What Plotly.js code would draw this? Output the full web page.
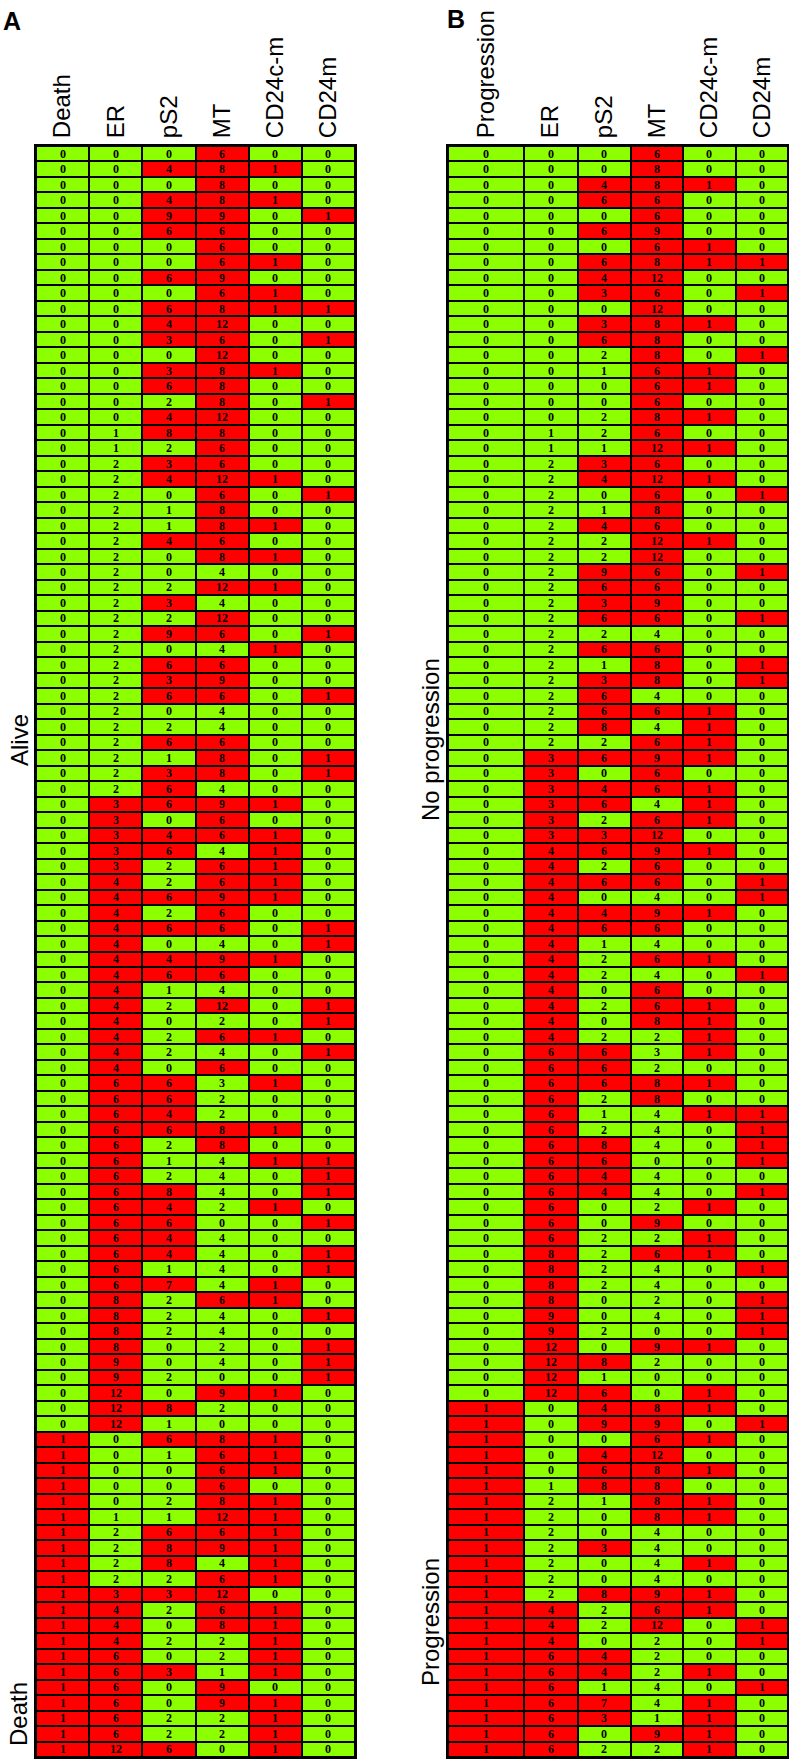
<!DOCTYPE html>
<html>
<head>
<meta charset="utf-8">
<script src="https://cdn.plot.ly/plotly-3.0.1.min.js"></script>
<style>
  body { margin: 0; background: #fff; }
  #chart { width: 789px; height: 1759px; }
</style>
</head>
<body>
<div id="chart"></div>
<script>
// column headers
var colsA = ['Death', 'ER', 'pS2', 'MT', 'CD24c-m', 'CD24m'];
var colsB = ['Progression', 'ER', 'pS2', 'MT', 'CD24c-m', 'CD24m'];

// a value at or above the cutoff is drawn red
var cutoffs = [1, 3, 3, 6, 1, 1];

// panel A: overall survival
var deathA = [
  0,0,0,0,0,0,0,0,0,0, 0,0,0,0,0,0,0,0,0,0, 0,0,0,0,0,0,0,0,0,0,
  0,0,0,0,0,0,0,0,0,0, 0,0,0,0,0,0,0,0,0,0, 0,0,0,0,0,0,0,0,0,0,
  0,0,0,0,0,0,0,0,0,0, 0,0,0,0,0,0,0,0,0,0, 0,0,0,1,1,1,1,1,1,1,
  1,1,1,1,1,1,1,1,1,1, 1,1,1,1
];
var erA = [
  0,0,0,0,0,0,0,0,0,0, 0,0,0,0,0,0,0,0,1,1, 2,2,2,2,2,2,2,2,2,2,
  2,2,2,2,2,2,2,2,2,2, 2,2,3,3,3,3,3,4,4,4, 4,4,4,4,4,4,4,4,4,4,
  6,6,6,6,6,6,6,6,6,6, 6,6,6,6,8,8,8,8,9,9, 12,12,12,0,0,0,0,0,1,2,
  2,2,2,3,4,4,4,6,6,6, 6,6,6,12
];
var ps2A = [
  0,4,0,4,9,6,0,0,6,0, 6,4,3,0,3,6,2,4,8,2, 3,4,0,1,1,4,0,0,2,3,
  2,9,0,6,3,6,0,2,6,1, 3,6,6,0,4,6,2,2,6,2, 6,0,4,6,1,2,0,2,2,0,
  6,6,4,6,2,1,2,8,4,6, 4,4,1,7,2,2,2,0,0,2, 0,8,1,6,1,0,0,2,1,6,
  8,8,2,3,2,0,2,0,3,0, 0,2,2,6
];
var mtA = [
  6,8,8,8,9,6,6,6,9,6, 8,12,6,12,8,8,8,12,8,6, 6,12,6,8,8,6,8,4,12,4,
  12,6,4,6,9,6,4,4,6,8, 8,4,9,6,6,4,6,6,9,6, 6,4,9,6,4,12,2,6,4,6,
  3,2,2,8,8,4,4,4,2,0, 4,4,4,4,6,4,4,2,4,0, 9,2,0,8,6,6,6,8,12,6,
  9,4,6,12,6,8,2,2,1,9, 9,2,2,0
];
var cd24cmA = [
  0,1,0,1,0,0,0,1,0,1, 1,0,0,0,1,0,0,0,0,0, 0,1,0,0,1,0,1,0,1,0,
  0,0,1,0,0,0,0,0,0,0, 0,0,1,0,1,1,1,1,1,0, 0,0,1,0,0,0,0,1,0,0,
  1,0,0,1,0,1,0,0,1,0, 0,0,0,1,1,0,0,0,0,0, 1,0,0,1,1,1,0,1,1,1,
  1,1,1,0,1,1,1,1,1,0, 1,1,1,1
];
var cd24mA = [
  0,0,0,0,1,0,0,0,0,0, 1,0,1,0,0,0,1,0,0,0, 0,0,1,0,0,0,0,0,0,0,
  0,1,0,0,0,1,0,0,0,1, 1,0,0,0,0,0,0,0,0,0, 1,1,0,0,0,1,1,0,1,0,
  0,0,0,0,0,1,1,1,0,1, 0,1,1,0,0,1,0,1,1,1, 0,0,0,0,0,0,0,0,0,0,
  0,0,0,0,0,0,0,0,0,0, 0,0,0,0
];

// panel B: progression
var progB = [
  0,0,0,0,0,0,0,0,0,0, 0,0,0,0,0,0,0,0,0,0, 0,0,0,0,0,0,0,0,0,0,
  0,0,0,0,0,0,0,0,0,0, 0,0,0,0,0,0,0,0,0,0, 0,0,0,0,0,0,0,0,0,0,
  0,0,0,0,0,0,0,0,0,0, 0,0,0,0,0,0,0,0,0,0, 0,1,1,1,1,1,1,1,1,1,
  1,1,1,1,1,1,1,1,1,1, 1,1,1,1
];
var erB = [
  0,0,0,0,0,0,0,0,0,0, 0,0,0,0,0,0,0,0,1,1, 2,2,2,2,2,2,2,2,2,2,
  2,2,2,2,2,2,2,2,2,3, 3,3,3,3,3,4,4,4,4,4, 4,4,4,4,4,4,4,4,6,6,
  6,6,6,6,6,6,6,6,6,6, 6,8,8,8,8,9,9,12,12,12, 12,0,0,0,0,0,1,2,2,2,
  2,2,2,2,4,4,4,6,6,6, 6,6,6,6
];
var ps2B = [
  0,0,4,6,0,6,0,6,4,3, 0,3,6,2,1,0,0,2,2,1, 3,4,0,1,4,2,2,9,6,3,
  6,2,6,1,3,6,6,8,2,6, 0,4,6,2,3,6,2,6,0,4, 6,1,2,2,0,2,0,2,6,6,
  6,2,1,2,8,6,4,4,0,0, 2,2,2,2,0,0,2,0,8,1, 6,4,9,0,4,6,8,1,0,0,
  3,0,0,8,2,2,0,4,4,1, 7,3,0,2
];
var mtB = [
  6,8,8,6,6,9,6,8,12,6, 12,8,8,8,6,6,6,8,6,12, 6,12,6,8,6,12,12,6,6,9,
  6,4,6,8,8,4,6,4,6,9, 6,6,4,6,12,9,6,6,4,9, 6,4,6,4,6,6,8,2,3,2,
  8,8,4,4,4,0,4,4,2,9, 2,6,4,4,2,4,0,9,2,0, 0,8,9,6,12,8,8,8,8,4,
  4,4,4,9,6,12,2,2,2,4, 4,1,9,2
];
var cd24cmB = [
  0,0,1,0,0,0,1,1,0,0, 0,1,0,0,1,1,0,1,0,1, 0,1,0,0,0,1,0,0,0,0,
  0,0,0,0,0,0,1,1,1,1, 0,1,1,1,0,1,0,0,0,1, 0,0,1,0,0,1,1,1,1,0,
  1,0,1,0,0,0,0,0,1,0, 1,1,0,0,0,0,0,1,0,0, 1,1,0,1,0,1,0,1,1,0,
  0,1,0,1,1,0,0,0,1,0, 1,1,1,1
];
var cd24mB = [
  0,0,0,0,0,0,0,1,0,1, 0,0,0,1,0,0,0,0,0,0, 0,0,1,0,0,0,0,1,0,0,
  1,0,0,1,1,0,0,0,0,0, 0,0,0,0,0,0,0,1,1,0, 0,0,0,1,0,0,0,0,0,0,
  0,0,1,1,1,1,0,1,0,0, 0,0,1,0,1,1,1,0,0,0, 0,0,1,0,0,0,0,0,0,0,
  0,0,0,0,0,1,1,0,0,1, 0,0,0,0
];

var GREEN = '#8cff00';
var RED = '#ff0000';

function buildTrace(columns, xEdges, xa, ya) {
    var n = columns[0].length;
    var z = [], text = [], rows = [];
    for (var i = 0; i < n; i++) {
        var zr = [], tr = [];
        for (var j = 0; j < columns.length; j++) {
            var v = columns[j][i];
            zr.push(v >= cutoffs[j] ? 1 : 0);
            tr.push(String(v));
        }
        z.push(zr);
        text.push(tr);
        rows.push(i);
    }
    return {
        type: 'heatmap',
        x: xEdges,
        y: rows,
        z: z,
        text: text,
        texttemplate: '%{text}',
        textfont: { family: 'Liberation Serif', size: 12, color: '#000', weight: 'bold' },
        colorscale: [[0, GREEN], [0.5, GREEN], [0.5, RED], [1, RED]],
        zmin: 0, zmax: 1,
        showscale: false,
        xgap: 2, ygap: 2,
        hoverinfo: 'skip',
        xaxis: xa, yaxis: ya
    };
}

var edgesA = [0, 1, 2, 3, 4, 5, 6];
var edgesB = [0, 1.43, 2.45, 3.46, 4.44, 5.45, 6.43];
var centersA = [0.5, 1.5, 2.5, 3.5, 4.5, 5.5];
var centersB = [];
for (var k = 0; k < 6; k++) centersB.push((edgesB[k] + edgesB[k + 1]) / 2);

var traceA = buildTrace([deathA, erA, ps2A, mtA, cd24cmA, cd24mA], edgesA, 'x', 'y');
var traceB = buildTrace([progB, erB, ps2B, mtB, cd24cmB, cd24mB], edgesB, 'x2', 'y2');

var W = 789, H = 1759;
var tableTop = 146, tableBottom = 1757;
var headFont = { family: 'Liberation Sans, Arial, sans-serif', size: 24, color: '#000' };

function xAxis(domain, vals, labels, last) {
    return {
        domain: domain, range: [0, last], side: 'top',
        tickvals: vals, ticktext: labels, tickangle: -90,
        ticks: 'outside', ticklen: 1, tickcolor: 'rgba(0,0,0,0)',
        tickfont: headFont,
        showgrid: false, zeroline: false,
        showline: true, mirror: true, linecolor: '#000', linewidth: 2,
        fixedrange: true
    };
}
function yAxis(anchor) {
    return {
        domain: [1 - tableBottom / H, 1 - tableTop / H], range: [103.5, -0.5],
        anchor: anchor, showticklabels: false, ticks: '',
        showgrid: false, zeroline: false,
        showline: true, mirror: true, linecolor: '#000', linewidth: 2,
        fixedrange: true
    };
}

var labelFont = { family: 'Liberation Sans, Arial, sans-serif', size: 24, color: '#000' };
function sideLabel(text, px, py) {
    return { text: text, xref: 'paper', yref: 'paper', x: px / W, y: 1 - py / H,
             xanchor: 'center', yanchor: 'middle',
             textangle: -90, showarrow: false, font: labelFont };
}
var letterFont = { family: 'Liberation Sans, Arial, sans-serif', size: 25, color: '#000' };

var layout = {
    width: W, height: H,
    margin: { l: 0, r: 0, t: 0, b: 0 },
    paper_bgcolor: '#fff',
    plot_bgcolor: '#000',
    showlegend: false,
    xaxis: Object.assign(xAxis([36 / W, 355 / W], centersA, colsA, 6), { anchor: 'y' }),
    yaxis: yAxis('x'),
    xaxis2: Object.assign(xAxis([448 / W, 788 / W], centersB, colsB, 6.43), { anchor: 'y2' }),
    yaxis2: yAxis('x2'),
    annotations: [
        { text: '<b>A</b>', xref: 'paper', yref: 'paper', x: 12 / W, y: 1 - 21 / H,
          xanchor: 'center', yanchor: 'middle', showarrow: false, font: letterFont },
        { text: '<b>B</b>', xref: 'paper', yref: 'paper', x: 456 / W, y: 1 - 19 / H,
          xanchor: 'center', yanchor: 'middle', showarrow: false, font: letterFont },
        sideLabel('Alive', 19, 740),
        sideLabel('Death', 18, 1714),
        sideLabel('No progression', 430, 740),
        sideLabel('Progression', 430, 1622)
    ]
};

Plotly.newPlot('chart', [traceA, traceB], layout, { displayModeBar: false, staticPlot: true });
</script>
</body>
</html>
